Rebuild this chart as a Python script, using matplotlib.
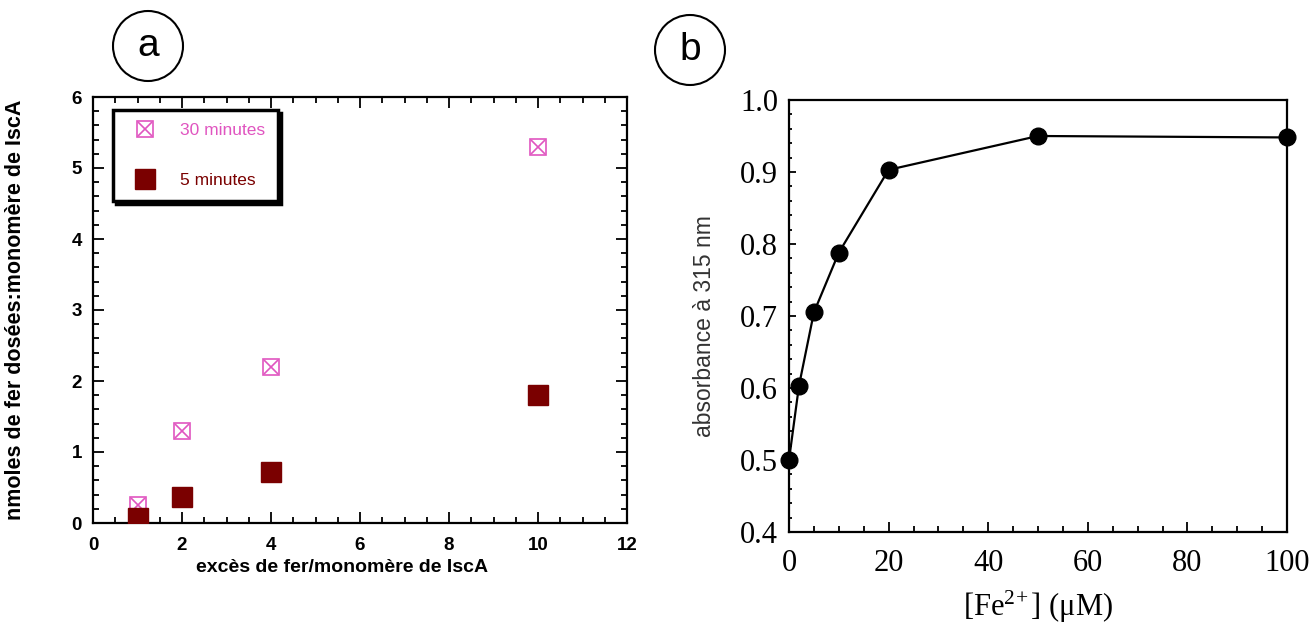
import matplotlib
matplotlib.use("Agg")
import matplotlib.pyplot as plt
from matplotlib.patches import Ellipse
from matplotlib.lines import Line2D
from matplotlib.ticker import MultipleLocator
from matplotlib.legend_handler import HandlerTuple

plt.rcParams['mathtext.fontset'] = 'custom'
plt.rcParams['mathtext.rm'] = 'Liberation Serif'
plt.rcParams['mathtext.it'] = 'Liberation Serif:italic'

# Panel a data
excess = [1, 2, 4, 10]
iron_30min = [0.25, 1.3, 2.2, 5.3]
iron_5min = [0.07, 0.37, 0.72, 1.8]
label_30 = "30 minutes"
label_5 = "5 minutes"

# Panel b data
fe_conc = [0, 2, 5, 10, 20, 50, 100]
absorbance = [0.50, 0.603, 0.705, 0.788, 0.903, 0.950, 0.948]

pink = '#e055c0'
darkred = '#7a0000'

fig = plt.figure(figsize=(13.10, 6.28), dpi=100)
W, H = 1310, 628

def fax(l, r, t, b):
    return fig.add_axes([l / W, 1 - b / H, (r - l) / W, (b - t) / H])

# ---------------- Panel a ----------------
axa = fax(93, 627, 97, 523)
axa.set_xlim(0, 12)
axa.set_ylim(0, 6)
axa.plot(excess, iron_30min, linestyle='none', marker='s', ms=11,
         mfc='none', mec=pink, mew=1.2, zorder=3)
axa.plot(excess, iron_30min, linestyle='none', marker='x', ms=10,
         mec=pink, mew=1.2, zorder=3)
axa.plot(excess, iron_5min, linestyle='none', marker='s', ms=14,
         mfc=darkred, mec=darkred, zorder=4)

for sp in axa.spines.values():
    sp.set_linewidth(1.6)
axa.xaxis.set_major_locator(MultipleLocator(2))
axa.xaxis.set_minor_locator(MultipleLocator(0.5))
axa.yaxis.set_major_locator(MultipleLocator(1))
axa.yaxis.set_minor_locator(MultipleLocator(0.2))
axa.tick_params(which='both', direction='in', top=True, right=True, width=1.3)
axa.tick_params(which='major', length=8, labelsize=13.5)
axa.tick_params(axis='x', which='major', pad=10)
axa.tick_params(axis='y', which='major', pad=8)
axa.tick_params(which='minor', length=4)
for lab in axa.get_xticklabels() + axa.get_yticklabels():
    lab.set_fontweight('bold')
    lab.set_family('Liberation Sans')
axa.set_xlabel("excès de fer/monomère de IscA", fontsize=14,
               fontweight='bold', family='Liberation Sans', labelpad=4)
axa.xaxis.set_label_coords(0.467, -0.085)
axa.set_ylabel("nmoles de fer dosées:monomère de IscA", fontsize=15.5,
               fontweight='bold', family='Liberation Sans')
axa.yaxis.set_label_coords(-0.125, 0.5)

h30 = (Line2D([], [], linestyle='none', marker='s', ms=11, mfc='none', mec=pink, mew=1.2),
       Line2D([], [], linestyle='none', marker='x', ms=10, mec=pink, mew=1.2))
h5 = Line2D([], [], linestyle='none', marker='s', ms=14, mfc=darkred, mec=darkred)
leg = axa.legend([h30, h5], [label_30, label_5], loc='upper left',
                 bbox_to_anchor=(0.037, 0.969), borderaxespad=0,
                 handler_map={tuple: HandlerTuple(ndivide=1)},
                 prop={'family': 'Liberation Sans', 'size': 12.5},
                 labelspacing=2.0, borderpad=0.75, handlelength=2.2,
                 handletextpad=0.9, fancybox=False, framealpha=1,
                 edgecolor='black', shadow={'color': 'black', 'alpha': 1})
leg.get_frame().set_linewidth(2.5)
leg.get_texts()[0].set_color(pink)
leg.get_texts()[1].set_color(darkred)

# ---------------- Panel b ----------------
axb = fax(789, 1287, 100, 532)
axb.set_xlim(0, 100)
axb.set_ylim(0.4, 1.0)
axb.plot(fe_conc, absorbance, color='black', lw=1.6, marker='o', ms=12,
         mfc='black', mec='black', clip_on=False, zorder=3)
for sp in axb.spines.values():
    sp.set_linewidth(1.6)
axb.xaxis.set_major_locator(MultipleLocator(20))
axb.xaxis.set_minor_locator(MultipleLocator(5))
axb.yaxis.set_major_locator(MultipleLocator(0.1))
axb.yaxis.set_minor_locator(MultipleLocator(0.02))
axb.tick_params(which='both', direction='in', top=False, right=False, width=1.3)
axb.tick_params(axis='x', which='major', length=7, pad=12)
axb.tick_params(axis='x', which='minor', length=4)
axb.tick_params(axis='y', which='major', length=5, pad=8)
axb.tick_params(axis='y', which='minor', length=2)
axb.set_xticks([0, 20, 40, 60, 80, 100])
axb.set_xticklabels(['0', '20', '40', '60', '80', '100'])
axb.set_yticks([0.4, 0.5, 0.6, 0.7, 0.8, 0.9, 1.0])
axb.set_yticklabels(['0.4', '0.5', '0.6', '0.7', '0.8', '0.9', '1.0'])
for lab in axb.get_xticklabels() + axb.get_yticklabels():
    lab.set_family('Liberation Serif')
    lab.set_fontsize(22)
axb.set_xlabel("[Fe$^{\\mathrm{2\\!+}}$] (μM)", fontsize=22,
               family='Liberation Serif', labelpad=8)
fig.text(705 / W, 1 - 326 / H, "absorbance à 315 nm", rotation=90,
         ha='center', va='center', fontsize=16.5, color='#333333',
         family='Liberation Sans')

# ---------------- Panel labels ----------------
for (cx, cy, txt) in [(148, 46, 'a'), (690, 50, 'b')]:
    e = Ellipse((cx / W, 1 - cy / H), 70 / W, 70 / H, transform=fig.transFigure,
                fill=False, edgecolor='black', lw=1.5)
    fig.add_artist(e)
    fig.text(cx / W, 1 - cy / H, txt, ha='center', va='center', fontsize=28,
             family='Liberation Sans')

fig.savefig('out.png', dpi=100)
